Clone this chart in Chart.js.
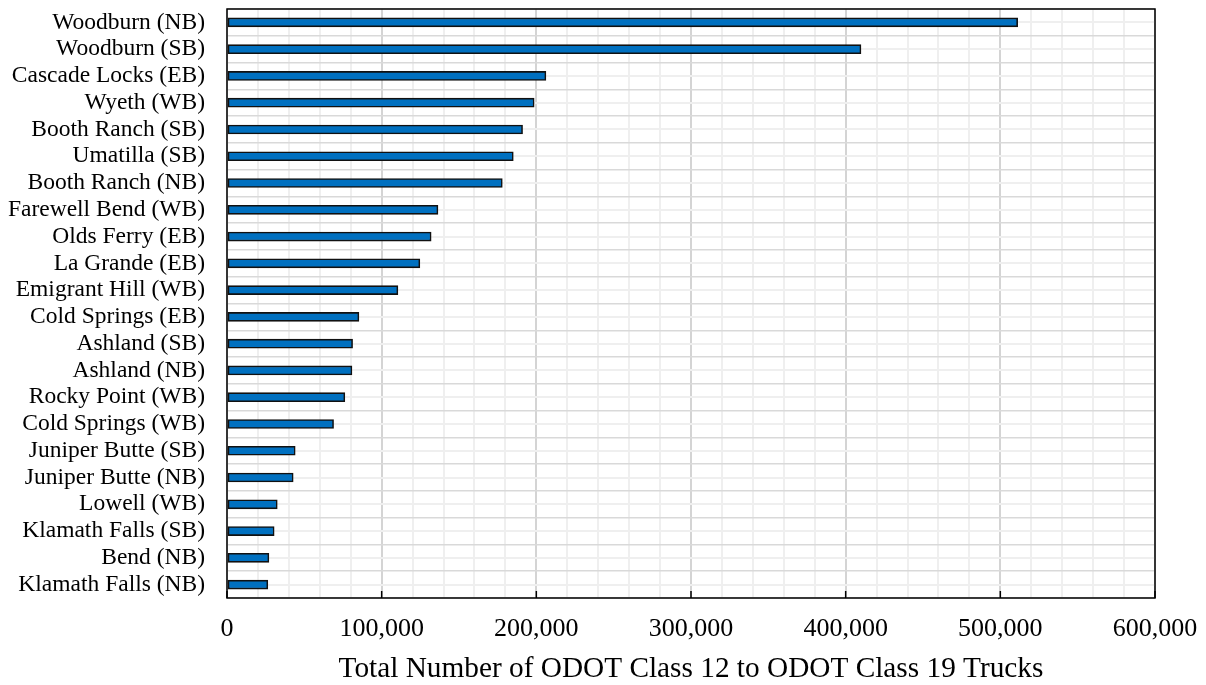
<!DOCTYPE html>
<html>
<head>
<meta charset="utf-8">
<script src="https://cdn.jsdelivr.net/npm/chart.js@4.4.1/dist/chart.umd.min.js"></script>
<style>
html,body{margin:0;padding:0;background:#ffffff;}
#wrap{width:1206px;height:685px;position:relative;}
</style>
</head>
<body>
<div id="wrap"><canvas id="c" width="1206" height="685"></canvas></div>
<script>
const categories = [
  'Woodburn (NB)', 'Woodburn (SB)', 'Cascade Locks (EB)', 'Wyeth (WB)',
  'Booth Ranch (SB)', 'Umatilla (SB)', 'Booth Ranch (NB)', 'Farewell Bend (WB)',
  'Olds Ferry (EB)', 'La Grande (EB)', 'Emigrant Hill (WB)', 'Cold Springs (EB)',
  'Ashland (SB)', 'Ashland (NB)', 'Rocky Point (WB)', 'Cold Springs (WB)',
  'Juniper Butte (SB)', 'Juniper Butte (NB)', 'Lowell (WB)', 'Klamath Falls (SB)',
  'Bend (NB)', 'Klamath Falls (NB)'
];
const truckTotals = [
  511200, 409900, 206200, 198600,
  191100, 185100, 178000, 136400,
  132000, 124700, 110500, 85300,
  81200, 80800, 76200, 68900,
  44100, 42800, 32500, 30500,
  27100, 26400
];
const majorTicks = [0, 100000, 200000, 300000, 400000, 500000, 600000];
const minorStep = 20000;
const axisTitle = 'Total Number of ODOT Class 12 to ODOT Class 19 Trucks';

const SERIF = "'Liberation Serif', 'Times New Roman', serif";

function zeroPad(scale) {
  scale.paddingTop = 0; scale.paddingBottom = 0;
  scale.paddingLeft = 0; scale.paddingRight = 0;
}

const framePlugin = {
  id: 'frame',
  afterDraw(chart) {
    const {ctx, chartArea: a, scales} = chart;
    ctx.save();
    ctx.strokeStyle = '#000';
    ctx.lineWidth = 1.5;
    majorTicks.forEach(v => {
      const x = scales.x.getPixelForValue(v);
      ctx.beginPath();
      ctx.moveTo(x, a.bottom - 7);
      ctx.lineTo(x, a.bottom);
      ctx.stroke();
    });
    ctx.strokeRect(a.left, a.top, a.right - a.left, a.bottom - a.top);
    ctx.restore();
  }
};

new Chart(document.getElementById('c'), {
  type: 'bar',
  data: {
    labels: categories,
    datasets: [{
      data: truckTotals,
      backgroundColor: '#0070C0',
      borderColor: '#111111',
      borderWidth: 1.6,
      borderSkipped: false,
      barThickness: 9
    }]
  },
  options: {
    indexAxis: 'y',
    responsive: false,
    devicePixelRatio: 1,
    animation: false,
    layout: { padding: { left: 0, top: 9, right: 51, bottom: 0 } },
    plugins: { legend: { display: false }, tooltip: { enabled: false } },
    scales: {
      x: {
        type: 'linear',
        position: 'bottom',
        min: 0,
        max: 600000,
        afterBuildTicks(scale) {
          const t = [];
          for (let v = 0; v <= 600000; v += minorStep) t.push({ value: v });
          scale.ticks = t;
        },
        afterFit(scale) { scale.height = 87; zeroPad(scale); },
        border: { display: false },
        grid: {
          drawTicks: false,
          color: ctx => (majorTicks.includes(ctx.tick && ctx.tick.value) ? '#d4d4d4' : '#efefef'),
          lineWidth: 2
        },
        ticks: {
          autoSkip: false,
          maxRotation: 0,
          padding: 16,
          color: '#000',
          font: { family: SERIF, size: 26 },
          callback: v => (majorTicks.includes(v) ? v.toLocaleString('en-US') : '')
        },
        title: {
          display: true,
          text: axisTitle,
          color: '#000',
          font: { family: SERIF, size: 29.3, lineHeight: 1 },
          padding: { top: 0, bottom: 1 }
        }
      },
      y: {
        type: 'category',
        position: 'left',
        offset: true,
        afterFit(scale) { scale.width = 227; zeroPad(scale); },
        border: { display: false },
        grid: {
          offset: true,
          drawTicks: false,
          color: '#d9d9d9',
          lineWidth: 1.5
        },
        ticks: {
          padding: 22,
          color: '#000',
          autoSkip: false,
          font: { family: SERIF, size: 23.5 }
        }
      },
      y2: {
        type: 'category',
        position: 'left',
        offset: true,
        afterFit(scale) { scale.width = 0; zeroPad(scale); },
        border: { display: false },
        grid: {
          offset: false,
          drawTicks: false,
          color: '#efefef',
          lineWidth: 2
        },
        ticks: { display: false }
      }
    }
  },
  plugins: [framePlugin]
});
</script>
</body>
</html>
